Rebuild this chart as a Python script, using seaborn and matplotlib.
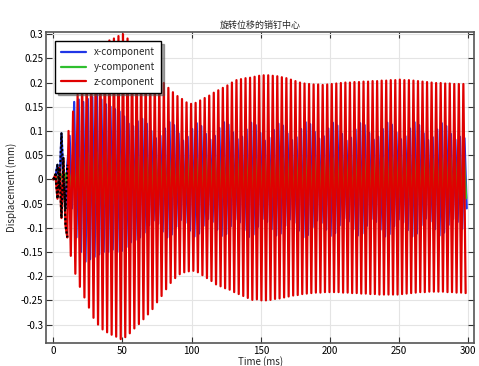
import numpy as np
import pandas as pd
import matplotlib
matplotlib.use("Agg")
import matplotlib.pyplot as plt
import seaborn as sns
from matplotlib.lines import Line2D

# --- datos (mm) ---
# arranque (0-11 ms), trazado con puntos negros encima
t_ini = [0.0, 1.5, 3.0, 4.4, 5.9, 7.3, 8.8, 10.1]
x_ini = [0.0, 0.005, 0.03, -0.02, 0.095, 0.0, -0.06, 0.03]
y_ini = [0.0, 0.002, 0.006, -0.004, 0.01, -0.006, 0.012, -0.01]
z_ini = [0.0, 0.01, -0.04, 0.024, -0.08, 0.044, -0.095, -0.12]

# picos de cada ciclo (periodo ~3.28 ms)
periodo = 3.28
t_z0, t_x0, t_y0 = 11.0, 11.8, 11.4

z_top = [0.100, 0.140, 0.175, 0.205, 0.228, 0.248, 0.262, 0.273,
         0.281, 0.287, 0.291, 0.296, 0.300, 0.291, 0.277, 0.262,
         0.247, 0.233, 0.222, 0.215, 0.208, 0.199, 0.189, 0.180,
         0.172, 0.166, 0.159, 0.156, 0.158, 0.163, 0.168, 0.173,
         0.179, 0.184, 0.189, 0.194, 0.200, 0.205, 0.207, 0.209,
         0.210, 0.212, 0.214, 0.215, 0.215, 0.214, 0.213, 0.211,
         0.209, 0.206, 0.203, 0.200, 0.198, 0.197, 0.196, 0.196,
         0.195, 0.196, 0.197, 0.198, 0.199, 0.200, 0.200, 0.201,
         0.201, 0.202, 0.202, 0.203, 0.203, 0.204, 0.204, 0.205,
         0.205, 0.206, 0.205, 0.205, 0.204, 0.203, 0.202, 0.201,
         0.200, 0.199, 0.199, 0.198, 0.198, 0.197, 0.197, 0.197]
z_bot = [-0.158, -0.195, -0.222, -0.244, -0.265, -0.286, -0.300, -0.310,
         -0.316, -0.321, -0.325, -0.330, -0.326, -0.318, -0.308, -0.299,
         -0.289, -0.279, -0.268, -0.254, -0.241, -0.227, -0.214, -0.204,
         -0.196, -0.192, -0.190, -0.189, -0.192, -0.198, -0.204, -0.210,
         -0.217, -0.221, -0.225, -0.228, -0.233, -0.237, -0.241, -0.245,
         -0.249, -0.248, -0.250, -0.250, -0.249, -0.247, -0.246, -0.244,
         -0.242, -0.240, -0.239, -0.237, -0.236, -0.235, -0.234, -0.234,
         -0.233, -0.233, -0.233, -0.233, -0.234, -0.234, -0.235, -0.235,
         -0.236, -0.236, -0.237, -0.237, -0.238, -0.238, -0.238, -0.238,
         -0.238, -0.237, -0.236, -0.235, -0.234, -0.233, -0.233, -0.232,
         -0.232, -0.232, -0.232, -0.233, -0.233, -0.234, -0.234, -0.235]

x_top = [0.090, 0.160, 0.165, 0.160, 0.166, 0.170, 0.175, 0.165,
         0.155, 0.150, 0.145, 0.140, 0.130, 0.115, 0.110, 0.120,
         0.125, 0.115, 0.100, 0.085, 0.090, 0.105, 0.118, 0.112,
         0.095, 0.080, 0.088, 0.104, 0.116, 0.110, 0.094, 0.082,
         0.090, 0.106, 0.118, 0.113, 0.097, 0.083, 0.088, 0.103,
         0.117, 0.112, 0.096, 0.080, 0.086, 0.102, 0.115, 0.111,
         0.095, 0.081, 0.087, 0.104, 0.118, 0.114, 0.098, 0.084,
         0.089, 0.105, 0.117, 0.111, 0.094, 0.080, 0.086, 0.103,
         0.116, 0.112, 0.096, 0.082, 0.088, 0.104, 0.117, 0.113,
         0.097, 0.083, 0.089, 0.105, 0.118, 0.112, 0.095, 0.081,
         0.087, 0.103, 0.116, 0.110, 0.094, 0.082, 0.088, 0.085]
x_bot = [-0.060, -0.120, -0.150, -0.170, -0.165, -0.160, -0.155, -0.150,
         -0.150, -0.145, -0.150, -0.148, -0.140, -0.130, -0.125, -0.120,
         -0.110, -0.095, -0.085, -0.092, -0.108, -0.120, -0.114, -0.098,
         -0.084, -0.090, -0.106, -0.118, -0.112, -0.096, -0.082, -0.088,
         -0.104, -0.117, -0.113, -0.097, -0.083, -0.089, -0.105, -0.119,
         -0.114, -0.098, -0.082, -0.088, -0.103, -0.116, -0.112, -0.096,
         -0.083, -0.090, -0.106, -0.120, -0.115, -0.099, -0.085, -0.090,
         -0.104, -0.117, -0.111, -0.095, -0.081, -0.087, -0.103, -0.116,
         -0.112, -0.096, -0.082, -0.088, -0.104, -0.118, -0.113, -0.097,
         -0.083, -0.089, -0.105, -0.118, -0.112, -0.095, -0.081, -0.087,
         -0.103, -0.116, -0.110, -0.094, -0.082, -0.088, -0.102, -0.060]

y_top = [0.012, 0.030, 0.045, 0.052, 0.055, 0.055, 0.056, 0.055,
         0.055, 0.054, 0.055, 0.054, 0.053, 0.052, 0.050, 0.048,
         0.046, 0.045, 0.044, 0.043, 0.043, 0.042, 0.042, 0.042,
         0.042, 0.043, 0.043, 0.043, 0.044, 0.044, 0.044, 0.045,
         0.045, 0.045, 0.045, 0.044, 0.044, 0.044, 0.044, 0.043,
         0.043, 0.043, 0.043, 0.043, 0.043, 0.043, 0.044, 0.044,
         0.044, 0.044, 0.045, 0.045, 0.045, 0.045, 0.045, 0.044,
         0.044, 0.044, 0.044, 0.044, 0.043, 0.043, 0.043, 0.043,
         0.043, 0.044, 0.044, 0.044, 0.044, 0.045, 0.045, 0.045,
         0.045, 0.045, 0.044, 0.044, 0.044, 0.044, 0.043, 0.043,
         0.043, 0.043, 0.044, 0.044, 0.044, 0.044, 0.045, 0.045]
y_bot = [-0.015, -0.032, -0.045, -0.050, -0.052, -0.052, -0.053, -0.052,
         -0.052, -0.051, -0.051, -0.050, -0.049, -0.047, -0.045, -0.043,
         -0.041, -0.040, -0.039, -0.038, -0.037, -0.037, -0.036, -0.036,
         -0.036, -0.037, -0.037, -0.037, -0.038, -0.038, -0.038, -0.039,
         -0.039, -0.039, -0.039, -0.038, -0.038, -0.038, -0.037, -0.037,
         -0.037, -0.037, -0.037, -0.037, -0.038, -0.038, -0.038, -0.038,
         -0.039, -0.039, -0.039, -0.039, -0.039, -0.038, -0.038, -0.038,
         -0.038, -0.037, -0.037, -0.037, -0.037, -0.037, -0.038, -0.038,
         -0.038, -0.038, -0.039, -0.039, -0.039, -0.039, -0.039, -0.038,
         -0.038, -0.038, -0.038, -0.037, -0.037, -0.037, -0.037, -0.038,
         -0.038, -0.038, -0.038, -0.039, -0.039, -0.039, -0.039, -0.039]

componentes = ['x-component', 'y-component', 'z-component']
colores = dict(zip(componentes, ['#2036e6', '#2fbf2f', '#e00000']))


def serie(t0, tops, bots, t_i, v_i):
    # intercala picos y valles del ciclo
    k = np.arange(len(tops))
    t = np.empty(2 * len(tops))
    v = np.empty(2 * len(tops))
    t[0::2] = t0 + periodo * k
    t[1::2] = t0 + periodo * k + periodo / 2
    v[0::2] = tops
    v[1::2] = bots
    return np.concatenate([t_i, t]), np.concatenate([v_i, v])


datos = []
for comp, (t0, tops, bots, vi) in zip(componentes,
                                      [(t_x0, x_top, x_bot, x_ini),
                                       (t_y0, y_top, y_bot, y_ini),
                                       (t_z0, z_top, z_bot, z_ini)]):
    tt, vv = serie(t0, tops, bots, t_ini, vi)
    datos.append(pd.DataFrame({'Time': tt, 'Displacement': vv, 'comp': comp}))
df = pd.concat(datos, ignore_index=True)

sns.set_style('whitegrid')
plt.rcParams['font.family'] = ['Noto Sans CJK SC', 'DejaVu Sans']

fig = plt.figure(figsize=(4.79, 3.66), dpi=100)
ax = fig.add_axes([0.096, 0.063, 0.894, 0.849])

sns.lineplot(data=df, x='Time', y='Displacement', hue='comp',
             palette=colores, estimator=None, sort=False,
             linewidth=1.6, ax=ax, legend=False)
for ln in ax.lines:
    ln.set_solid_joinstyle('round')

# puntos negros del arranque
ini = pd.DataFrame({'Time': t_ini, 'x': x_ini, 'z': z_ini})
for c in ['x', 'z']:
    ax.plot(ini['Time'], ini[c], color='black', linestyle=(0, (1, 1)),
            linewidth=1.6)

ax.set_xlim(-5.3, 304.2)
ax.set_ylim(-0.338, 0.304)
ax.set_xticks(range(0, 301, 50))
ax.set_yticks(np.arange(-0.3, 0.31, 0.05))
ax.set_yticklabels(['-0.3', '-0.25', '-0.2', '-0.15', '-0.1', '-0.05', '0',
                    '0.05', '0.1', '0.15', '0.2', '0.25', '0.3'])
ax.grid(True, color='#e4e4e4', linewidth=0.8)
ax.tick_params(direction='in', length=4, width=0.8, labelsize=7,
               top=True, right=True, bottom=True, left=True, pad=2,
               colors='#333333', labelcolor='black')
for s in ax.spines.values():
    s.set_color('#555555')
    s.set_linewidth(1.2)

ax.set_xlabel('Time (ms)', fontsize=7, labelpad=0)
ax.set_ylabel('Displacement (mm)', fontsize=7, labelpad=3)
ax.set_title('旋转位移的销钉中心', fontsize=6.5, pad=3)

handles = [Line2D([], [], color=colores[c], linewidth=1.6) for c in componentes]
leg = ax.legend(handles, componentes, loc='upper left',
                bbox_to_anchor=(0.021, 0.971), borderaxespad=0,
                fontsize=7, frameon=True, fancybox=False, shadow=True,
                handlelength=2.6, labelspacing=0.5, borderpad=0.6)
leg.get_frame().set_edgecolor('black')
leg.get_frame().set_linewidth(1.0)

fig.savefig('out.png', dpi=100)
